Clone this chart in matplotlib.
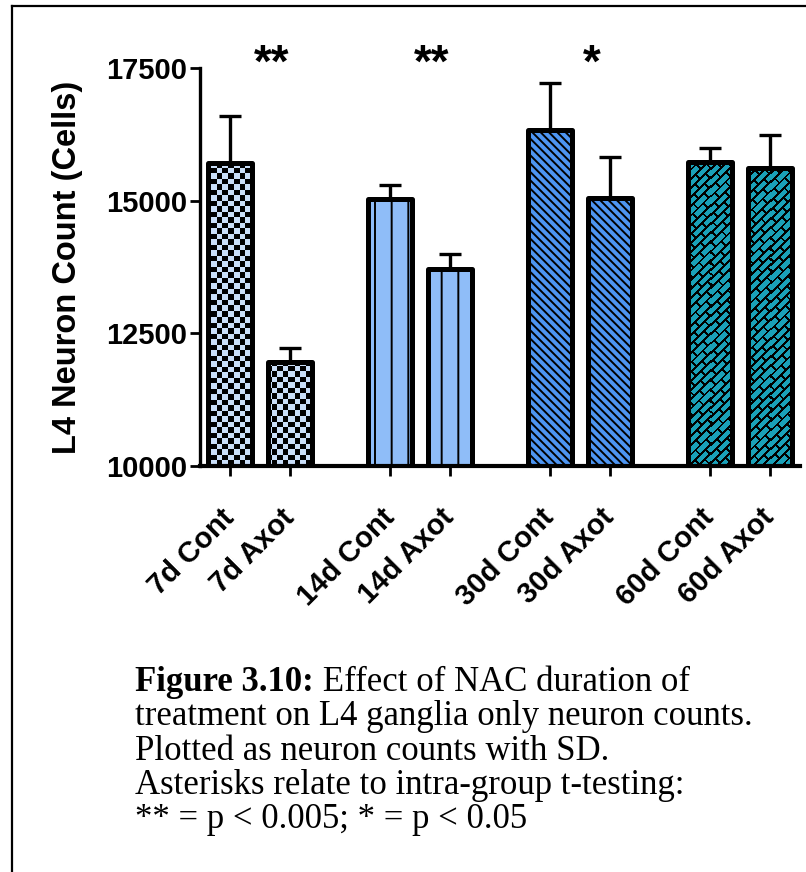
import matplotlib
matplotlib.use("Agg")
import matplotlib.pyplot as plt
import numpy as np

# values
labels = ["7d Cont", "7d Axot", "14d Cont", "14d Axot",
          "30d Cont", "30d Axot", "60d Cont", "60d Axot"]
counts = [15710, 11960, 15030, 13720, 16330, 15050, 15720, 15610]
sd = [890, 260, 260, 280, 880, 780, 280, 630]
groups = [0, 0, 1, 1, 2, 2, 3, 3]
stars = ["**", "**", "*", ""]

caption = [
    "treatment on L4 ganglia only neuron counts.",
    "Plotted as neuron counts with SD.",
    "Asterisks relate to intra-group t-testing:",
    "** = p < 0.005; * = p < 0.05",
]

plt.rcParams["font.family"] = ["Liberation Sans", "DejaVu Sans"]
plt.rcParams["hatch.linewidth"] = 1.4

fig = plt.figure(figsize=(8.06, 8.72), dpi=100)
ax = fig.add_axes([200 / 806, 1 - 466 / 872, 600 / 806, 398 / 872])

# bar positions: pairs with a wider gap between groups
xpos = np.array([g * (8 / 3) + (i % 2) for i, g in enumerate(groups)])
width = 0.74

face = ["#c9def8", "#8fbdf8", "#4d95f2", "#1aa0b8"]
hatches = [None, "|", "\\\\\\\\", None]

ax.set_xlim(-0.5, 9.5)
ax.set_ylim(10000, 17500)

bars = ax.bar(xpos, np.array(counts) - 10000, bottom=10000, width=width,
              color=[face[g] for g in groups], edgecolor="none", zorder=2)
for b, g in zip(bars, groups):
    if hatches[g]:
        b.set_hatch(hatches[g])
        b.set_edgecolor("black")
        b.set_linewidth(0)

# textures over the whole axes in pixel units, clipped to each bar
W, H = 600, 398
yy, xx = np.mgrid[0:H, 0:W]
checker = ((xx // 5.5).astype(int) + (yy // 5.5).astype(int)) % 2
chk_img = np.ones((H, W, 4))
chk_img[checker == 1, :3] = 0
chk_img[checker == 0, :3] = matplotlib.colors.to_rgb(face[0])

u = (xx + yy) / np.sqrt(2)
v = (xx - yy) / np.sqrt(2)
bh, bl = 6.5, 15.0
row = np.floor(v / bh)
mortar = ((v % bh) < 2.0) | (((u + (row % 2) * bl / 2) % bl) < 2.0)
brk_img = np.ones((H, W, 4))
brk_img[mortar, :3] = 0
brk_img[~mortar, :3] = matplotlib.colors.to_rgb(face[3])

for b, g in zip(bars, groups):
    if g == 0:
        tex = chk_img
    elif g == 3:
        tex = brk_img
    else:
        continue
    im = ax.imshow(tex, extent=(-0.5, 9.5, 10000, 17500), origin="lower",
                   aspect="auto", interpolation="nearest", zorder=2.1)
    im.set_clip_path(b)

ax.set_xlim(-0.5, 9.5)
ax.set_ylim(10000, 17500)

# bar outlines
ax.bar(xpos, np.array(counts) - 10000, bottom=10000, width=width,
       fill=False, edgecolor="black", linewidth=3.6, zorder=3,
       joinstyle="round")

# upper SD only
ax.errorbar(xpos, counts, yerr=[np.zeros(len(sd)), sd], fmt="none",
            ecolor="black", elinewidth=2.4, capsize=8, capthick=2.4,
            zorder=1)

# significance marks
for g, s in enumerate(stars):
    if s:
        ax.text(g * (8 / 3) + 0.7, 17150, s, ha="center", va="bottom",
                fontsize=33, fontweight="bold", clip_on=False)

ax.set_xticks(xpos)
ax.set_xticklabels(labels, rotation=45, ha="right", va="center",
                   rotation_mode="anchor", fontsize=21, fontweight="bold")
ax.set_yticks([10000, 12500, 15000, 17500])
ax.set_yticklabels(["10000", "12500", "15000", "17500"],
                   fontsize=21, fontweight="bold")
ax.tick_params(axis="x", length=7, width=2, pad=27)
ax.tick_params(axis="y", length=7, width=2, pad=2)
ax.set_ylabel("L4 Neuron Count (Cells)", fontsize=23.5, fontweight="bold",
              labelpad=17)

for s in ["top", "right"]:
    ax.spines[s].set_visible(False)
ax.spines["left"].set_linewidth(2.4)
ax.spines["bottom"].set_linewidth(3)

# caption below the chart
serif = ["Liberation Serif", "DejaVu Serif"]
t0 = fig.text(135 / 806, 1 - 691 / 872, "Figure 3.10:", family=serif,
              fontsize=25, fontweight="bold", va="baseline")
ax.annotate(" Effect of NAC duration of", xy=(1, 0), xycoords=t0,
            va="bottom", ha="left", family=serif, fontsize=25,
            annotation_clip=False)
for i, line in enumerate(caption):
    fig.text(135 / 806, 1 - (691 + 34.3 * (i + 1)) / 872, line,
             family=serif, fontsize=25, va="baseline")

# page frame
fig.add_artist(plt.Line2D([12 / 806, 12 / 806], [0, 1 - 6 / 872],
                          color="black", linewidth=1.6))
fig.add_artist(plt.Line2D([12 / 806, 1], [1 - 6 / 872, 1 - 6 / 872],
                          color="black", linewidth=1.6))

fig.savefig("out.png", dpi=100)
